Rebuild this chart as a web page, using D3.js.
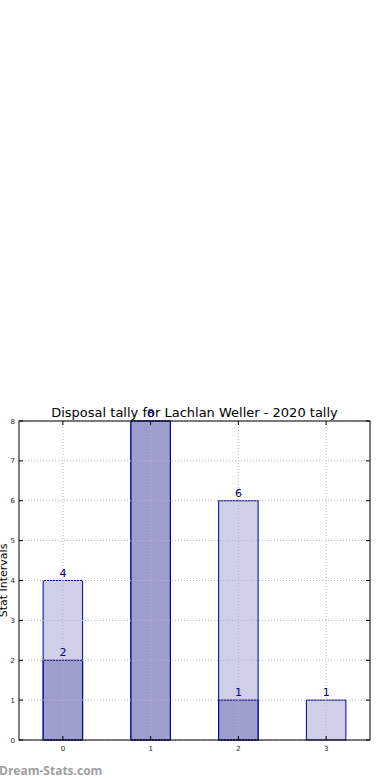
<!DOCTYPE html>
<html>
<head>
<meta charset="utf-8">
<script src="https://cdn.jsdelivr.net/npm/d3@7"></script>
<style>
  body { margin: 0; background: #fff; }
  svg text { font-family: "DejaVu Sans", sans-serif; }
</style>
</head>
<body>
<div id="chart"></div>
<script>
// Data
const categories = [0, 1, 2, 3];
const totalValues = [4, 8, 6, 1];
const innerValues = [2, 8, 1, 0];
const yTicks = [0, 1, 2, 3, 4, 5, 6, 7, 8];
const titleText = "Disposal tally for Lachlan Weller - 2020 tally";

const W = 390, H = 780;
const plotLeft = 19, plotRight = 370, plotTop = 421, plotBottom = 740;

const svg = d3.select("#chart").append("svg")
  .attr("width", W).attr("height", H);

const x = d3.scaleLinear().domain([-0.5, 3.5]).range([plotLeft, plotRight]);
const y = d3.scaleLinear().domain([0, 8]).range([plotBottom, plotTop]);
const barW = x(0.45) - x(0);

// title (value labels may sit over it, as in the original)
svg.append("text").attr("x", (plotLeft + plotRight) / 2).attr("y", 417)
  .attr("text-anchor", "middle").attr("font-size", 13).attr("fill", "#000").text(titleText);

// back bars
svg.append("g").selectAll("rect").data(categories.filter((c, i) => totalValues[i] > 0))
  .enter().append("rect")
  .attr("x", d => x(d) - barW / 2)
  .attr("y", d => y(totalValues[d]))
  .attr("width", barW)
  .attr("height", d => plotBottom - y(totalValues[d]))
  .attr("fill", "rgba(160,160,210,0.5)")
  .attr("stroke", "#00008b").attr("stroke-width", 1);

// front bars
svg.append("g").selectAll("rect").data(categories.filter((c, i) => innerValues[i] > 0))
  .enter().append("rect")
  .attr("x", d => x(d) - barW / 2)
  .attr("y", d => y(innerValues[d]))
  .attr("width", barW)
  .attr("height", d => plotBottom - y(innerValues[d]))
  .attr("fill", "rgba(110,110,180,0.5)")
  .attr("stroke", "#00008b").attr("stroke-width", 1);

// grid (sits above bars)
const grid = svg.append("g");
grid.selectAll("line.h").data(yTicks).enter().append("line")
  .attr("x1", plotLeft).attr("x2", plotRight)
  .attr("y1", d => y(d)).attr("y2", d => y(d))
  .attr("stroke", "#b8b8b8").attr("stroke-dasharray", "1,2");
grid.selectAll("line.v").data(categories).enter().append("line")
  .attr("x1", d => x(d)).attr("x2", d => x(d))
  .attr("y1", plotTop).attr("y2", plotBottom)
  .attr("stroke", "#b8b8b8").attr("stroke-dasharray", "1,2");

// value labels
const labels = svg.append("g").attr("fill", "#00008b").attr("font-size", 11).attr("text-anchor", "middle");
categories.forEach((c, i) => {
  if (totalValues[i] > 0)
    labels.append("text").attr("x", x(c)).attr("y", y(totalValues[i]) - 4).text(totalValues[i]);
  if (innerValues[i] > 0 && innerValues[i] !== totalValues[i])
    labels.append("text").attr("x", x(c)).attr("y", y(innerValues[i]) - 4).text(innerValues[i]);
});

// frame
svg.append("rect").attr("x", plotLeft).attr("y", plotTop)
  .attr("width", plotRight - plotLeft).attr("height", plotBottom - plotTop)
  .attr("fill", "none").attr("stroke", "#000").attr("stroke-width", 1);

// ticks
const axisG = svg.append("g").attr("font-size", 7).attr("fill", "#222");
yTicks.forEach(t => {
  axisG.append("text").attr("x", plotLeft - 4).attr("y", y(t) + 2.5)
    .attr("text-anchor", "end").text(t);
  svg.append("line").attr("x1", plotLeft).attr("x2", plotLeft + 4).attr("y1", y(t)).attr("y2", y(t)).attr("stroke", "#000");
  svg.append("line").attr("x1", plotRight - 4).attr("x2", plotRight).attr("y1", y(t)).attr("y2", y(t)).attr("stroke", "#000");
});
categories.forEach(c => {
  axisG.append("text").attr("x", x(c)).attr("y", plotBottom + 11)
    .attr("text-anchor", "middle").text(c);
  svg.append("line").attr("x1", x(c)).attr("x2", x(c)).attr("y1", plotBottom - 4).attr("y2", plotBottom).attr("stroke", "#000");
  svg.append("line").attr("x1", x(c)).attr("x2", x(c)).attr("y1", plotTop).attr("y2", plotTop + 4).attr("stroke", "#000");
});

// y label
svg.append("text").attr("transform", `translate(7, ${(plotTop + plotBottom) / 2}) rotate(-90)`)
  .attr("text-anchor", "middle").attr("font-size", 11).attr("fill", "#000").text("Stat Intervals");

// watermark
svg.append("text").attr("x", -1).attr("y", 775)
  .style("font-family", "'Open Sans', sans-serif")
  .attr("font-size", 12).attr("font-weight", "bold").attr("fill", "#a0a0a0").text("Dream-Stats.com");
</script>
</body>
</html>
